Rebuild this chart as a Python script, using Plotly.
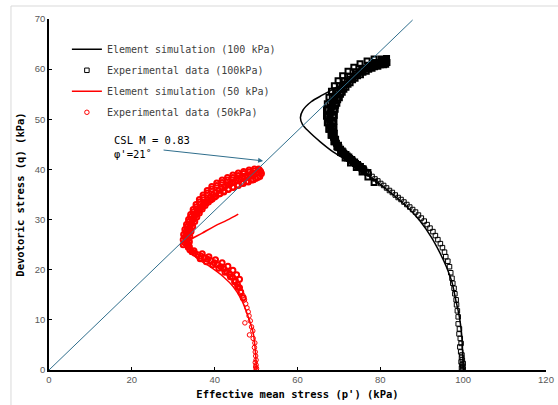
import plotly.graph_objects as go

# ---------------- data ----------------
sim100_p = [100.0, 99.9, 99.6, 99.0, 98.2, 97.3, 96.0, 94.3, 92.3, 89.5, 86.5, 83.0, 79.0,
            75.0, 71.5, 68.6, 65.5, 62.8, 61.2, 60.7, 61.3, 63.3, 66.2, 69.5, 72.6, 76.0,
            79.3, 81.5]
sim100_q = [0.0, 3.0, 7.4, 11.0, 14.0, 17.5, 20.5, 23.5, 26.5, 29.8, 32.5, 35.0, 37.6,
            40.0, 42.0, 43.5, 45.5, 47.5, 49.0, 50.3, 51.8, 53.5, 54.9, 56.4, 57.8, 59.3,
            60.5, 61.2]

# experimental 100 kPa: sparse lower part
exp100_lo_p = [99.8, 100.0, 99.6, 99.9, 99.7, 100.0, 99.5, 99.8, 99.6, 99.7, 99.4, 99.2, 99.5,
               99.3, 99.0, 99.1, 98.8, 98.8, 98.6, 98.4, 98.3, 98.0, 97.8, 97.5, 97.3, 97.0,
               96.7, 96.3, 95.8, 95.5, 95.0, 94.5, 93.9, 93.3, 92.7, 92.0, 91.3, 90.6, 89.9,
               89.2, 88.5, 87.8, 87.1, 86.4, 85.7, 85.0, 84.3, 83.6, 82.9, 82.2, 81.5, 80.8,
               80.1, 79.4, 78.7, 78.0, 77.3, 76.6]
exp100_lo_q = [0.0, 0.2, 0.4, 0.7, 1.0, 1.3, 1.6, 2.0, 2.5, 3.0, 3.6, 4.6, 5.3,
               6.3, 7.2, 8.2, 9.2, 10.6, 11.8, 13.0, 14.0, 15.2, 16.3, 17.3, 18.3, 19.4,
               20.6, 21.7, 22.6, 23.5, 24.4, 25.2, 26.0, 26.8, 27.6, 28.3, 29.0, 29.7, 30.3,
               30.9, 31.5, 32.0, 32.5, 33.0, 33.5, 34.0, 34.4, 34.9, 35.4, 35.8, 36.3, 36.8,
               37.2, 37.7, 38.1, 38.6, 39.1, 39.6]
# experimental 100 kPa: dense upper part
exp100_hi_p = [75.9, 75.2, 74.5, 73.8, 73.1, 72.4, 71.7,
               71.0, 70.4, 69.9, 69.4, 69.0, 68.7, 68.4, 68.2, 68.0, 67.9, 67.8, 67.8, 67.8,
               67.9, 68.0, 68.2, 68.4, 68.7, 69.0, 69.4, 69.8, 70.3, 70.8, 71.4, 72.0, 72.7,
               73.4, 74.1, 74.9, 75.7, 76.5, 77.3, 78.1, 78.9, 79.7, 80.5, 81.2, 81.6, 81.4,
               77.0, 75.6, 74.0, 72.6, 71.2, 70.0, 69.0, 68.2, 67.6, 67.2, 67.0, 67.0, 67.2,
               67.6, 68.2, 68.9, 69.8, 70.9, 72.2, 73.6, 75.1, 76.8, 78.5, 80.2, 81.5,
               78.5, 77.0, 75.6, 74.2, 72.8, 71.5, 70.4, 69.5, 68.9, 68.6, 68.5, 68.5, 68.6,
               68.8, 69.2, 69.7, 70.4, 71.2, 72.2, 73.3, 74.5, 75.8, 77.2, 78.6, 80.0, 81.3,
               74.9, 73.5, 72.1, 70.8, 69.7, 68.8, 68.1, 67.6, 67.4, 67.3, 67.4, 67.8, 68.4,
               69.2, 70.2, 71.3, 72.6, 74.0, 75.5, 77.1, 78.8, 80.4,
               76.0, 74.6, 73.3, 72.0, 70.8, 69.9, 69.2, 68.9, 68.8, 68.8, 68.9, 69.1, 69.5,
               70.1, 70.8, 71.7, 72.7, 73.9, 75.2, 76.6, 78.0, 79.4, 80.8]
exp100_hi_q = [40.1, 40.6, 41.0, 41.5, 42.0, 42.5, 43.0,
               43.5, 44.0, 44.6, 45.2, 45.8, 46.4, 47.0, 47.6, 48.2, 48.8, 49.4, 50.0, 50.6,
               51.2, 51.8, 52.4, 53.0, 53.6, 54.2, 54.8, 55.3, 55.9, 56.4, 57.0, 57.5, 58.0,
               58.5, 59.0, 59.4, 59.8, 60.2, 60.5, 60.8, 61.0, 61.2, 61.4, 61.5, 61.3, 61.8,
               39.4, 40.2, 41.2, 42.2, 43.2, 44.3, 45.5, 46.8, 48.0, 49.3, 50.6, 51.9, 53.1,
               54.4, 55.6, 56.7, 57.7, 58.7, 59.6, 60.4, 61.1, 61.6, 62.0, 62.0, 62.1,
               37.4, 38.5, 39.5, 40.4, 41.3, 42.3, 43.4, 44.5, 45.6, 46.8, 48.0, 49.2, 50.4,
               51.6, 52.8, 53.9, 55.0, 56.0, 57.0, 57.9, 58.7, 59.4, 60.0, 60.5, 60.9, 61.0,
               40.5, 41.4, 42.3, 43.3, 44.4, 45.5, 46.8, 48.0, 49.3, 50.6, 51.9, 53.2, 54.4,
               55.6, 56.7, 57.7, 58.6, 59.5, 60.2, 60.8, 61.3, 61.7,
               39.8, 40.8, 41.7, 42.7, 43.7, 44.8, 46.0, 47.2, 48.4, 49.6, 50.8, 52.0, 53.2,
               54.3, 55.4, 56.4, 57.3, 58.2, 58.9, 59.6, 60.2, 60.6, 60.9]

sim50_p = [50.0, 50.0, 49.8, 49.3, 48.1, 46.5, 44.5, 42.1, 38.9, 35.7, 34.0, 33.4,
           34.0, 37.0, 40.0, 43.0, 45.7]
sim50_q = [0.0, 1.4, 4.0, 7.4, 10.6, 14.0, 16.6, 18.6, 20.6, 22.3, 24.0, 25.3,
           25.9, 27.3, 28.7, 29.9, 31.1]

# experimental 50 kPa: sparse lower part
exp50_lo_p = [50.0, 50.1, 49.9, 50.0, 49.8, 50.0, 49.9, 49.8, 49.6, 49.7, 49.3, 48.4, 49.2,
              48.9, 47.3, 48.6, 48.3, 48.1, 47.8, 47.5, 47.2, 46.8, 46.4]
exp50_lo_q = [0.0, 0.3, 0.6, 1.0, 1.5, 2.0, 2.8, 3.6, 4.5, 5.4, 6.3, 7.0, 7.8,
              8.6, 9.4, 9.8, 10.8, 11.6, 12.4, 13.2, 14.0, 14.9, 15.7]
# experimental 50 kPa: dense upper part
exp50_hi_p = [46.0, 45.5, 45.0,
              44.3, 43.6, 42.9, 42.2, 41.5, 40.7, 39.9, 39.1, 38.3, 37.5, 36.7, 35.9, 35.2,
              34.5, 34.0, 33.6, 33.3, 33.2, 33.2, 33.3, 33.5, 33.7, 34.0, 34.3, 34.6, 35.0,
              35.4, 35.8, 36.3, 36.8, 37.3, 37.8, 38.4, 39.0, 39.6, 40.3, 41.0, 41.7, 42.4,
              43.1, 43.8, 44.5, 45.2, 45.9, 46.6, 47.3, 48.0, 48.7, 49.4, 50.1, 50.7, 51.1,
              50.8,
              32.4, 32.4, 32.5, 32.8, 33.2, 33.7, 34.2, 34.8, 35.5, 36.3, 37.2, 38.2, 39.3,
              40.5, 41.8, 43.1, 44.4, 45.7, 47.0, 48.3, 49.6, 50.6,
              33.9, 33.9, 34.0, 34.3, 34.7, 35.2, 35.7, 36.3, 37.0, 37.7, 38.5, 39.4, 40.3,
              41.3, 42.3, 43.3, 44.4, 45.5, 46.6, 47.7, 48.8, 49.9, 50.9, 51.3,
              36.5, 38.0, 39.5, 41.0, 42.5, 43.8, 44.8, 45.6, 46.3, 46.9,
              35.0, 37.0, 38.6, 40.2, 41.8, 43.2, 44.4, 45.3, 46.0,
              32.8, 32.8, 33.0, 33.3, 33.7, 34.2, 34.8, 35.5, 36.3, 37.2, 38.2, 39.3, 40.5,
              41.8, 43.1, 44.4, 45.7, 47.0, 48.3, 49.6,
              33.6, 33.6, 33.8, 34.1, 34.5, 35.0, 35.6, 36.3, 37.1, 38.0, 39.0, 40.0, 41.1,
              42.2, 43.3, 44.5, 45.7, 46.9, 48.1, 49.3, 50.4]
exp50_hi_q = [16.4, 17.1, 17.8,
              18.5, 19.1, 19.7, 20.2, 20.6, 21.0, 21.4, 21.8, 22.1, 22.4, 22.7, 23.0, 23.3,
              23.6, 24.0, 24.5, 25.0, 25.6, 26.2, 26.8, 27.4, 28.0, 28.6, 29.2, 29.8, 30.4,
              31.0, 31.5, 32.0, 32.5, 33.0, 33.5, 34.0, 34.5, 34.9, 35.4, 35.8, 36.2, 36.6,
              36.9, 37.2, 37.5, 37.8, 38.1, 38.4, 38.6, 38.8, 39.0, 39.2, 39.3, 39.4, 39.6,
              39.9,
              25.0, 26.0, 27.0, 28.0, 29.0, 30.0, 31.0, 32.0, 33.0, 34.0, 34.9, 35.8, 36.6,
              37.3, 37.9, 38.4, 38.9, 39.3, 39.6, 39.9, 40.1, 40.1,
              24.6, 25.6, 26.6, 27.6, 28.6, 29.6, 30.5, 31.3, 32.1, 32.8, 33.5, 34.1, 34.7,
              35.2, 35.7, 36.1, 36.5, 36.9, 37.3, 37.6, 37.9, 38.2, 38.6, 39.2,
              22.2, 21.6, 21.0, 20.3, 19.5, 18.6, 17.6, 16.6, 15.5, 14.4,
              23.8, 23.2, 22.6, 22.0, 21.4, 20.7, 19.9, 19.0, 18.1,
              25.4, 26.5, 27.5, 28.5, 29.5, 30.5, 31.5, 32.5, 33.5, 34.4, 35.3, 36.1, 36.8,
              37.4, 37.9, 38.4, 38.8, 39.2, 39.5, 39.7,
              25.1, 26.2, 27.2, 28.2, 29.2, 30.1, 31.0, 31.8, 32.6, 33.3, 33.9, 34.5, 35.1,
              35.5, 36.0, 36.4, 36.8, 37.2, 37.5, 37.9, 38.4]

csl_p = [0.0, 87.8]
csl_q = [0.0, 69.8]

x_ticks = [0, 20, 40, 60, 80, 100, 120]
y_ticks = [0, 10, 20, 30, 40, 50, 60, 70]

# ---------------- figure ----------------
MONO = "DejaVu Sans Mono"
CSL_COLOR = "#2F6E8C"

fig = go.Figure()

fig.add_trace(go.Scatter(x=exp100_lo_p, y=exp100_lo_q, mode="markers",
                         name="Experimental data (100kPa)", legendgroup="b", legendrank=2,
                         marker=dict(symbol="square-open", size=4.5, color="black",
                                     line=dict(width=1, color="black"))))
fig.add_trace(go.Scatter(x=exp100_hi_p, y=exp100_hi_q, mode="markers", showlegend=False,
                         name="Experimental data (100kPa)", legendgroup="b",
                         marker=dict(symbol="square-open", size=5, color="black",
                                     line=dict(width=2, color="black"))))
fig.add_trace(go.Scatter(x=exp50_lo_p, y=exp50_lo_q, mode="markers",
                         name="Experimental data (50kPa)", legendgroup="d", legendrank=4,
                         marker=dict(symbol="circle-open", size=4.5, color="red",
                                     line=dict(width=1, color="red"))))
fig.add_trace(go.Scatter(x=exp50_hi_p, y=exp50_hi_q, mode="markers", showlegend=False,
                         name="Experimental data (50kPa)", legendgroup="d",
                         marker=dict(symbol="circle-open", size=5, color="red",
                                     line=dict(width=2, color="red"))))
fig.add_trace(go.Scatter(x=sim100_p, y=sim100_q, mode="lines", line_shape="spline",
                         name="Element simulation (100 kPa)", legendgroup="a", legendrank=1,
                         line=dict(color="black", width=1.5)))
fig.add_trace(go.Scatter(x=sim50_p, y=sim50_q, mode="lines", line_shape="spline",
                         name="Element simulation (50 kPa)", legendgroup="c", legendrank=3,
                         line=dict(color="red", width=1.5)))
fig.add_trace(go.Scatter(x=csl_p, y=csl_q, mode="lines", showlegend=False,
                         line=dict(color=CSL_COLOR, width=1)))

# CSL annotation
fig.add_annotation(x=15.2, y=44.5, xref="x", yref="y", xanchor="left", yanchor="middle",
                   text="CSL M = 0.83<br>φ'=21˚", showarrow=False, align="left",
                   font=dict(family=MONO, size=10.5, color="black"))
fig.add_annotation(x=51.7, y=41.7, ax=27.3, ay=43.9, xref="x", yref="y",
                   axref="x", ayref="y", text="", showarrow=True,
                   arrowhead=2, arrowsize=1, arrowwidth=1, arrowcolor=CSL_COLOR)

# outer light frame
fig.add_shape(type="rect", xref="paper", yref="paper", x0=-0.0765, y0=-0.2, x1=1.2, y1=1.037,
              line=dict(color="#D9D9D9", width=1), layer="below")

fig.update_layout(
    width=558, height=405,
    margin=dict(l=49, r=12, t=19, b=35, autoexpand=False),
    paper_bgcolor="white", plot_bgcolor="white",
    showlegend=True,
    legend=dict(x=0.036, y=0.955, xanchor="left", yanchor="top",
                traceorder="grouped", tracegroupgap=2, itemwidth=30,
                bgcolor="rgba(0,0,0,0)",
                font=dict(family=MONO, size=10, color="#404040")),
    xaxis=dict(range=[0, 120], tickvals=x_ticks, showgrid=False, zeroline=False,
               automargin=False,
               showline=True, linecolor="black", linewidth=1.5,
               ticks="inside", ticklen=3, tickcolor="black",
               tickfont=dict(family="Liberation Sans", size=9.5, color="#595959"),
               title=dict(text="<b>Effective mean stress (p') (kPa)</b>", standoff=6,
                          font=dict(family=MONO, size=10.5, color="black"))),
    yaxis=dict(range=[0, 70], tickvals=y_ticks, showgrid=False, zeroline=False,
               automargin=False,
               showline=True, linecolor="black", linewidth=1.5,
               ticks="inside", ticklen=3, tickcolor="black",
               tickfont=dict(family="Liberation Sans", size=9.5, color="#595959"),
               title=dict(text="<b>Devotoric stress (q) (kPa)</b>", standoff=8,
                          font=dict(family=MONO, size=10.5, color="black"))),
)

fig.write_html("out.html", config={"displayModeBar": False},
               post_script="document.body.style.margin='0';document.body.style.overflow='hidden';")
